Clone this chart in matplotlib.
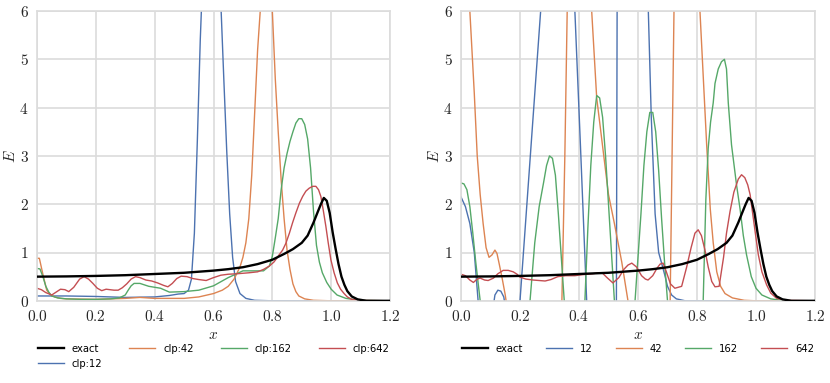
import matplotlib
matplotlib.use("Agg")
import matplotlib.pyplot as plt
from matplotlib.ticker import FuncFormatter, MultipleLocator

# ---------------- data ----------------
x_exact = [0, 0.1, 0.2, 0.3, 0.4, 0.5, 0.6, 0.65, 0.7, 0.75, 0.8, 0.84, 0.87, 0.9, 0.92, 0.94,
           0.955, 0.965, 0.975, 0.985, 0.995, 1.005, 1.015, 1.025, 1.035, 1.045, 1.055, 1.07,
           1.09, 1.12, 1.2]
e_exact = [0.50, 0.505, 0.515, 0.53, 0.555, 0.58, 0.625, 0.655, 0.695, 0.76, 0.85, 0.97, 1.07,
           1.2, 1.35, 1.62, 1.85, 2.0, 2.13, 2.07, 1.82, 1.42, 1.08, 0.76, 0.5, 0.33, 0.2, 0.09,
           0.03, 0.0, 0.0]

# left panel: clp series
x_clp12 = [0, 0.1, 0.2, 0.3, 0.4, 0.45, 0.48, 0.5, 0.515, 0.525, 0.535, 0.545, 0.555, 0.56,
           0.565, 0.58, 0.595, 0.61, 0.618, 0.626, 0.635, 0.645, 0.655, 0.665, 0.675, 0.69,
           0.71, 0.74, 0.8, 1.2]
e_clp12 = [0.1, 0.1, 0.09, 0.07, 0.08, 0.11, 0.14, 0.15, 0.22, 0.45, 1.4, 3.3, 5.4, 6.2,
           7.0, 8.6, 9.0, 8.2, 7.3, 6.0, 4.6, 3.1, 1.8, 0.9, 0.4, 0.15, 0.05, 0.01, 0.0, 0.0]

x_clp42 = [0, 0.008, 0.02, 0.033, 0.045, 0.06, 0.08, 0.1, 0.2, 0.3, 0.35, 0.4, 0.5, 0.55,
           0.6, 0.63, 0.65, 0.67, 0.69, 0.70, 0.71, 0.72, 0.73, 0.74, 0.75, 0.76, 0.78, 0.79,
           0.80, 0.81, 0.82, 0.83, 0.84, 0.85, 0.86, 0.87, 0.88, 0.89, 0.91, 0.94, 1.0, 1.2]
e_clp42 = [0.88, 0.88, 0.55, 0.22, 0.13, 0.08, 0.05, 0.04, 0.03, 0.05, 0.07, 0.05, 0.05, 0.08,
           0.15, 0.22, 0.3, 0.45, 0.7, 0.9, 1.2, 1.7, 2.6, 3.9, 5.2, 6.1, 6.6, 6.5,
           6.0, 4.6, 3.5, 2.5, 1.7, 1.05, 0.65, 0.35, 0.19, 0.1, 0.04, 0.01, 0.0, 0.0]

x_clp162 = [0, 0.01, 0.02, 0.03, 0.04, 0.05, 0.07, 0.1, 0.15, 0.2, 0.25, 0.28, 0.3, 0.31,
            0.32, 0.33, 0.35, 0.38, 0.42, 0.45, 0.5, 0.55, 0.6, 0.65, 0.7, 0.74, 0.77, 0.79,
            0.8, 0.81, 0.82, 0.83, 0.84, 0.85, 0.86, 0.87, 0.88, 0.89, 0.9, 0.91, 0.92, 0.93,
            0.94, 0.95, 0.96, 0.97, 0.985, 1.0, 1.02, 1.05, 1.1, 1.2]
e_clp162 = [0.67, 0.66, 0.5, 0.3, 0.18, 0.1, 0.06, 0.04, 0.03, 0.03, 0.04, 0.06, 0.12, 0.22,
            0.31, 0.36, 0.36, 0.3, 0.26, 0.18, 0.19, 0.22, 0.31, 0.48, 0.62, 0.62, 0.62, 0.72,
            0.92, 1.3, 1.7, 2.3, 2.75, 3.05, 3.3, 3.5, 3.68, 3.77, 3.77, 3.65, 3.35, 2.75,
            1.85, 1.15, 0.8, 0.58, 0.38, 0.24, 0.12, 0.05, 0.01, 0.0]

x_clp642 = [0, 0.015, 0.03, 0.05, 0.065, 0.08, 0.095, 0.108, 0.125, 0.145, 0.16, 0.175, 0.19,
            0.205, 0.22, 0.235, 0.248, 0.262, 0.276, 0.29, 0.305, 0.32, 0.335, 0.35, 0.37,
            0.39, 0.41, 0.43, 0.445, 0.46, 0.475, 0.49, 0.51, 0.53, 0.55, 0.575, 0.6, 0.625,
            0.65, 0.68, 0.72, 0.75, 0.77, 0.79, 0.805, 0.815, 0.824, 0.835, 0.846, 0.858,
            0.869, 0.88, 0.892, 0.903, 0.914, 0.925, 0.937, 0.948, 0.957, 0.965, 0.973, 0.982,
            0.99, 0.999, 1.01, 1.021, 1.032, 1.044, 1.055, 1.07, 1.09, 1.2]
e_clp642 = [0.26, 0.23, 0.17, 0.12, 0.18, 0.24, 0.23, 0.19, 0.28, 0.45, 0.5, 0.45, 0.36,
            0.26, 0.21, 0.24, 0.23, 0.22, 0.22, 0.27, 0.35, 0.45, 0.5, 0.48, 0.43,
            0.41, 0.37, 0.32, 0.29, 0.36, 0.46, 0.51, 0.5, 0.46, 0.44, 0.42, 0.48, 0.53,
            0.55, 0.56, 0.58, 0.6, 0.65, 0.72, 0.8, 0.88, 0.96, 1.05, 1.19, 1.4,
            1.62, 1.82, 2.02, 2.16, 2.27, 2.33, 2.37, 2.37, 2.3, 2.16, 1.88, 1.54,
            1.2, 0.85, 0.58, 0.37, 0.24, 0.15, 0.08, 0.03, 0.01, 0.0]

# right panel series
x_r12 = [0, 0.015, 0.03, 0.045, 0.058, 0.075, 0.09, 0.105, 0.115, 0.125, 0.135, 0.145, 0.155,
         0.175, 0.2, 0.235, 0.27, 0.3, 0.33, 0.36, 0.386, 0.405, 0.426, 0.45, 0.48, 0.51,
         0.526, 0.53, 0.56, 0.6, 0.635, 0.645, 0.658, 0.67, 0.68, 0.69, 0.7, 0.714, 0.73,
         0.76, 0.8, 1.2]
e_r12 = [2.15, 1.95, 1.6, 1.0, 0.0, -0.8, -1.0, -0.3, 0.12, 0.22, 0.2, 0.08, -0.3,
         -1.5, 0.0, 3.0, 6.0, 7.8, 8.6, 8.0, 6.0, 3.2, 0.0, -3.0, -5.0, -4.0,
         -2.0, 8.0, 9.5, 9.5, 6.0, 3.8, 1.8, 1.0, 0.78, 0.55, 0.3, 0.12, 0.04,
         0.0, 0.0, 0.0]

x_r42 = [0, 0.015, 0.03, 0.045, 0.055, 0.065, 0.075, 0.085, 0.095, 0.105, 0.115, 0.122, 0.13,
         0.14, 0.15, 0.16, 0.2, 0.26, 0.31, 0.335, 0.342, 0.352, 0.36, 0.38, 0.41, 0.43,
         0.443, 0.46, 0.48, 0.5, 0.52, 0.545, 0.566, 0.6, 0.65, 0.69, 0.709, 0.722, 0.75,
         0.79, 0.81, 0.833, 0.845, 0.855, 0.867, 0.88, 0.895, 0.92, 0.96, 1.0, 1.2]
e_r42 = [9.0, 7.5, 6.0, 4.3, 3.0, 2.2, 1.6, 1.1, 0.9, 0.95, 1.05, 0.98, 0.75,
         0.45, 0.12, -0.3, -2.0, -3.0, -2.5, -0.5, 0.0, 3.0, 6.0, 9.0, 9.5, 7.5,
         6.0, 4.2, 3.2, 2.2, 1.6, 0.8, 0.0, -1.5, -2.5, -1.5, 0.0, 6.0, 9.5,
         8.5, 6.0, 3.2, 1.9, 1.2, 0.6, 0.3, 0.15, 0.06, 0.01, 0.0, 0.0]

x_r162 = [0, 0.01, 0.02, 0.03, 0.04, 0.05, 0.065, 0.09, 0.15, 0.2, 0.234, 0.25, 0.265, 0.28,
          0.29, 0.3, 0.31, 0.32, 0.33, 0.34, 0.35, 0.38, 0.41, 0.42, 0.43, 0.44, 0.45, 0.46,
          0.47, 0.48, 0.49, 0.5, 0.51, 0.52, 0.55, 0.58, 0.59, 0.6, 0.61, 0.62, 0.63, 0.64,
          0.65, 0.66, 0.67, 0.68, 0.69, 0.70, 0.75, 0.8, 0.815, 0.821, 0.83, 0.838, 0.846,
          0.855, 0.861, 0.872, 0.883, 0.893, 0.9, 0.906, 0.917, 0.934, 0.946, 0.957, 0.968,
          0.984, 1.0, 1.02, 1.05, 1.1, 1.2]
e_r162 = [2.44, 2.42, 2.3, 1.95, 1.4, 0.8, 0.0, -1.5, -3.0, -1.5, 0.0, 1.2, 1.95, 2.45,
          2.8, 3.0, 2.95, 2.6, 1.8, 0.9, 0.0, -2.0, -1.0, 0.0, 1.5, 2.8, 3.7, 4.25,
          4.2, 3.8, 3.0, 2.0, 1.0, 0.0, -2.0, -1.0, 0.0, 0.9, 1.8, 2.8, 3.5, 3.9,
          3.9, 3.5, 2.7, 1.7, 0.8, 0.0, -2.0, -1.5, -1.0, 0.0, 2.1, 3.16, 3.7,
          4.1, 4.5, 4.8, 4.95, 5.0, 4.8, 4.1, 3.23, 2.4, 1.9, 1.35, 0.95,
          0.5, 0.26, 0.12, 0.04, 0.0, 0.0]

x_r642 = [0, 0.015, 0.03, 0.042, 0.055, 0.065, 0.08, 0.092, 0.11, 0.125, 0.143, 0.16, 0.177,
          0.19, 0.2, 0.22, 0.244, 0.265, 0.285, 0.305, 0.328, 0.355, 0.386, 0.41, 0.43,
          0.447, 0.465, 0.48, 0.495, 0.515, 0.535, 0.552, 0.566, 0.579, 0.595, 0.612, 0.625,
          0.634, 0.65, 0.665, 0.675, 0.685, 0.695, 0.71, 0.725, 0.748, 0.765, 0.78, 0.793,
          0.804, 0.815, 0.827, 0.838, 0.85, 0.861, 0.875, 0.89, 0.9, 0.912, 0.925, 0.94,
          0.951, 0.962, 0.972, 0.98, 0.99, 1.0, 1.008, 1.02, 1.036, 1.05, 1.07, 1.1, 1.2]
e_r642 = [0.55, 0.52, 0.43, 0.38, 0.45, 0.47, 0.43, 0.42, 0.47, 0.56, 0.63, 0.63, 0.6,
          0.55, 0.49, 0.45, 0.43, 0.42, 0.41, 0.44, 0.5, 0.52, 0.52, 0.54, 0.55,
          0.56, 0.58, 0.57, 0.48, 0.37, 0.48, 0.65, 0.74, 0.78, 0.7, 0.52, 0.45,
          0.43, 0.52, 0.68, 0.76, 0.78, 0.62, 0.35, 0.26, 0.3, 0.7, 1.1, 1.4,
          1.47, 1.35, 1.05, 0.7, 0.4, 0.29, 0.3, 0.9, 1.4, 1.85, 2.25, 2.52,
          2.61, 2.55, 2.4, 2.2, 1.75, 1.3, 0.95, 0.6, 0.33, 0.16, 0.05, 0.01, 0.0]

labels_left = ["exact", "clp:12", "clp:42", "clp:162", "clp:642"]
labels_right = ["exact", "12", "42", "162", "642"]

# ---------------- style ----------------
plt.rcParams["mathtext.fontset"] = "cm"
plt.rcParams["font.family"] = ["DejaVu Sans"]

BLUE, ORANGE, GREEN, RED = "#4C72B0", "#DD8452", "#55A868", "#C44E52"
GRID = "#dcdcdc"

fig = plt.figure(figsize=(8.3, 3.83), dpi=100)
axL = fig.add_axes([37 / 830, 1 - 300.8 / 383, (390 - 37) / 830, (300.8 - 11) / 383])
axR = fig.add_axes([461 / 830, 1 - 300.8 / 383, (815 - 461) / 830, (300.8 - 11) / 383])


def style(ax):
    ax.set_xlim(0, 1.2)
    ax.set_ylim(0, 6)
    ax.xaxis.set_major_locator(MultipleLocator(0.2))
    ax.yaxis.set_major_locator(MultipleLocator(1))
    ax.xaxis.set_major_formatter(FuncFormatter(lambda v, p: r"$%.1f$" % v))
    ax.yaxis.set_major_formatter(FuncFormatter(lambda v, p: r"$%d$" % round(v)))
    ax.grid(True, color=GRID, linewidth=1.2)
    ax.set_axisbelow(True)
    for s in ax.spines.values():
        s.set_color(GRID)
        s.set_linewidth(1.2)
    ax.tick_params(length=0, labelsize=11, colors="#262626", pad=6)
    ax.set_xlabel(r"$x$", fontsize=11, color="#262626", labelpad=2)
    ax.set_ylabel(r"$E$", fontsize=11, color="#262626", labelpad=1)


lw = 1.0
lw_exact = 1.7
for ax in (axL, axR):
    style(ax)

axL.plot(x_exact, e_exact, color="black", lw=lw_exact, label=labels_left[0], zorder=5)
axL.plot(x_clp12, e_clp12, color=BLUE, lw=lw, label=labels_left[1])
axL.plot(x_clp42, e_clp42, color=ORANGE, lw=lw, label=labels_left[2])
axL.plot(x_clp162, e_clp162, color=GREEN, lw=lw, label=labels_left[3])
axL.plot(x_clp642, e_clp642, color=RED, lw=lw, label=labels_left[4])

axR.plot(x_exact, e_exact, color="black", lw=lw_exact, label=labels_right[0], zorder=5)
axR.plot(x_r12, e_r12, color=BLUE, lw=lw, label=labels_right[1])
axR.plot(x_r42, e_r42, color=ORANGE, lw=lw, label=labels_right[2])
axR.plot(x_r162, e_r162, color=GREEN, lw=lw, label=labels_right[3])
axR.plot(x_r642, e_r642, color=RED, lw=lw, label=labels_right[4])

legkw = dict(loc="upper center", frameon=False, fontsize=7.2, handlelength=2.6,
             handletextpad=0.8, borderaxespad=0)
axL.legend(ncol=4, bbox_to_anchor=(0.5, -0.135), columnspacing=2.7, **legkw)
axR.legend(ncol=5, bbox_to_anchor=(0.5, -0.135), columnspacing=2.3, **legkw)

fig.savefig("out.png", dpi=100)
